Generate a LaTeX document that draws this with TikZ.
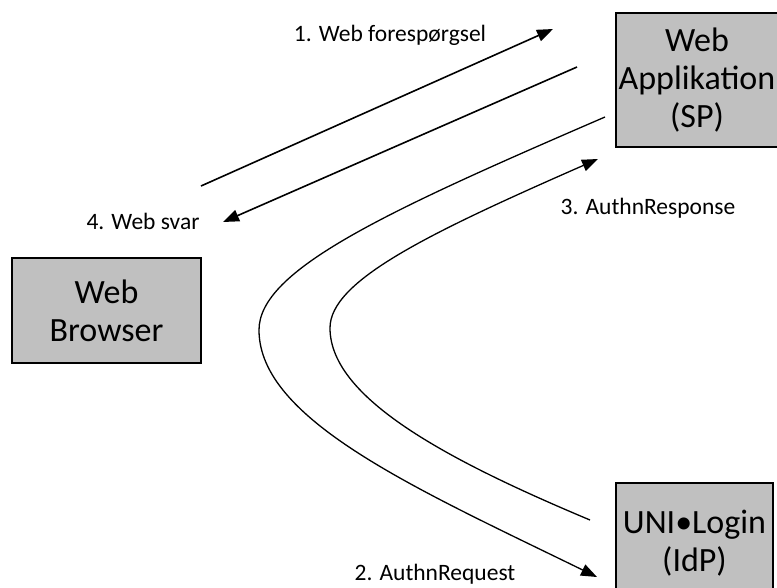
\documentclass[tikz,border=0pt]{standalone}
\usepackage{fontspec}
\setmainfont{Carlito}
\usetikzlibrary{arrows.meta}
\definecolor{boxgray}{RGB}{192,192,192}
\begin{document}
\begin{tikzpicture}[x=1pt,y=-1pt,
  box/.style={draw=black, line width=1.3pt, fill=boxgray, align=center, inner sep=0pt, font=\fontsize{34}{38}\selectfont},
  lbl/.style={anchor=base, inner sep=0pt, font=\fontsize{23.5}{27}\selectfont},
  msg/.style={line width=1.6pt, -{Triangle[length=16pt,width=12pt]}},
  flow/.style={line width=1.3pt, -{Triangle[length=16pt,width=12pt]}}]
\useasboundingbox (0,0) rectangle (777,587);
\fill[boxgray] (616,13) rectangle (790,147);
\node[box, minimum width=162pt, minimum height=134pt] (sp) at (697,80) {Web\\Applikation\\(SP)};
\node[box, minimum width=189pt, minimum height=105pt] (br) at (106.5,310.5) {Web\\Browser};
\node[box, minimum width=157pt, minimum height=120pt] (idp) at (694.5,543) {UNI•Login\\(IdP)};
\coordinate (a1s) at (201,186); \coordinate (a1e) at (553,29);
\coordinate (a4s) at (577,67);  \coordinate (a4e) at (223,222);
\coordinate (a2s) at (605,117); \coordinate (a2v) at (259,330); \coordinate (a2e) at (597,577);
\coordinate (a3s) at (590,520); \coordinate (a3v) at (330,328); \coordinate (a3e) at (598,159);
\draw[msg] (a1s) -- (a1e);
\draw[msg] (a4s) -- (a4e);
\draw[flow] (a2s) .. controls (385,212) and (259,270) .. (a2v) .. controls (259,420) and (417,489) .. (a2e);
\draw[flow] (a3s) .. controls (447,460) and (330,398) .. (a3v) .. controls (330,281) and (427,234) .. (a3e);
\node[lbl] (l1) at (390,41) {1. Web forespørgsel};
\node[lbl] (l4) at (143,229) {4. Web svar};
\node[lbl] (l3) at (648,214) {3. AuthnResponse};
\node[lbl] (l2) at (435,580) {2. AuthnRequest};
\end{tikzpicture}
\end{document}
